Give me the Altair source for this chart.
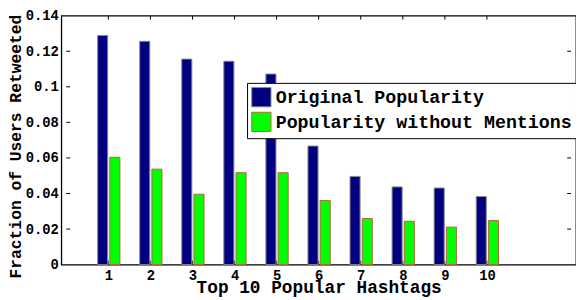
import altair as alt
import pandas as pd

hashtags = [1, 2, 3, 4, 5, 6, 7, 8, 9, 10]
original = [0.1289, 0.1256, 0.1156, 0.1144, 0.1072, 0.0667, 0.0496, 0.0437, 0.0431, 0.0383]
without_mentions = [0.0604, 0.0537, 0.0396, 0.0517, 0.0517, 0.0361, 0.0259, 0.0244, 0.0211, 0.0248]
series_names = ["Original Popularity", "Popularity without Mentions"]
y_ticks = [0, 0.02, 0.04, 0.06, 0.08, 0.1, 0.12, 0.14]
x_ticks = hashtags

X_MAX = 12
Y_MAX = 0.14
BAR_W = 0.24
FONT = "Liberation Mono"

rows = []
for h, a, b in zip(hashtags, original, without_mentions):
    rows.append({"idx": h, "series": series_names[0], "value": a, "off": -0.255})
    rows.append({"idx": h, "series": series_names[1], "value": b, "off": 0.035})
df = pd.DataFrame(rows)

xs = alt.Scale(domain=[0, X_MAX], nice=False, zero=False)
ys = alt.Scale(domain=[0, Y_MAX], nice=False)

xaxis = alt.Axis(values=x_ticks, title="Top 10 Popular Hashtags", ticks=False,
                 domain=False, grid=False, labelPadding=4, titlePadding=-4,
                 labelOverlap=False,
                 labelFont=FONT, labelFontWeight="bold", labelFontSize=14,
                 labelColor="black",
                 titleFont=FONT, titleFontWeight="bold", titleFontSize=18,
                 titleColor="black")
yaxis = alt.Axis(values=y_ticks, format="~g", title="Fraction of Users Retweeted",
                 ticks=False, domain=False, grid=False, labelPadding=3,
                 titlePadding=2, labelOverlap=False, titleY=132,
                 labelFont=FONT, labelFontWeight="bold", labelFontSize=14,
                 labelColor="black",
                 titleFont=FONT, titleFontWeight="bold", titleFontSize=16.5,
                 titleColor="black")

bars = alt.Chart(df).transform_calculate(
    x0="datum.idx + datum.off", x1=f"datum.idx + datum.off + {BAR_W}", base="0"
).mark_bar(strokeWidth=1, orient="vertical").encode(
    x=alt.X("x0:Q", scale=xs, axis=xaxis),
    x2="x1:Q",
    y=alt.Y("value:Q", scale=ys, axis=yaxis),
    y2="base:Q",
    fill=alt.Fill("series:N", scale=alt.Scale(domain=series_names, range=["#000080", "#00ff00"]),
                  legend=alt.Legend(title=None, orient="none", legendX=188, legendY=68)),
    stroke=alt.Stroke("series:N", scale=alt.Scale(domain=series_names, range=["#8c8c8c", "#b8643c"]),
                      legend=alt.Legend(title=None, orient="none", legendX=188, legendY=68)),
)

# inward tick marks on all four sides
yt = pd.DataFrame({"v": y_ticks[1:-1]})
xt = pd.DataFrame({"v": x_ticks})
tick_len_x = 4 / 521 * X_MAX
tick_len_y = 4 / 252 * Y_MAX

left_ticks = alt.Chart(yt).mark_rule(color="black", strokeWidth=1).encode(
    y=alt.Y("v:Q", scale=ys, axis=yaxis), x=alt.X("a:Q", scale=xs, axis=xaxis), x2="b:Q"
).transform_calculate(a="0", b=str(tick_len_x))
right_ticks = alt.Chart(yt).mark_rule(color="black", strokeWidth=1).encode(
    y=alt.Y("v:Q", scale=ys, axis=yaxis), x=alt.X("a:Q", scale=xs, axis=xaxis), x2="b:Q"
).transform_calculate(a=str(X_MAX - tick_len_x), b=str(X_MAX))
top_ticks = alt.Chart(xt).mark_rule(color="black", strokeWidth=1).encode(
    x=alt.X("v:Q", scale=xs, axis=xaxis), y=alt.Y("a:Q", scale=ys, axis=yaxis), y2="b:Q"
).transform_calculate(a=str(Y_MAX - tick_len_y), b=str(Y_MAX))
bottom_ticks = alt.Chart(xt).mark_rule(color="#444444", strokeWidth=1).encode(
    x=alt.X("v:Q", scale=xs, axis=xaxis), y=alt.Y("a:Q", scale=ys, axis=yaxis), y2="b:Q"
).transform_calculate(a="0", b=str(tick_len_y))

chart = alt.layer(bars, bottom_ticks, left_ticks, right_ticks, top_ticks).properties(
    width=521, height=252,
    background="white",
    autosize=alt.AutoSizeParams(type="none"),
    padding={"left": 54, "top": 6, "right": 0, "bottom": 33},
).configure_view(
    stroke="black", strokeWidth=1.3
).configure_legend(
    strokeColor="black", fillColor="white", padding=4, cornerRadius=0,
    symbolType="square", symbolSize=380, symbolStrokeWidth=1,
    labelFont=FONT, labelFontWeight="bold", labelFontSize=18.5, labelColor="black",
    labelLimit=0, rowPadding=0, labelOffset=4,
)

chart.save("out.html", embed_options={"renderer": "svg", "actions": False})
